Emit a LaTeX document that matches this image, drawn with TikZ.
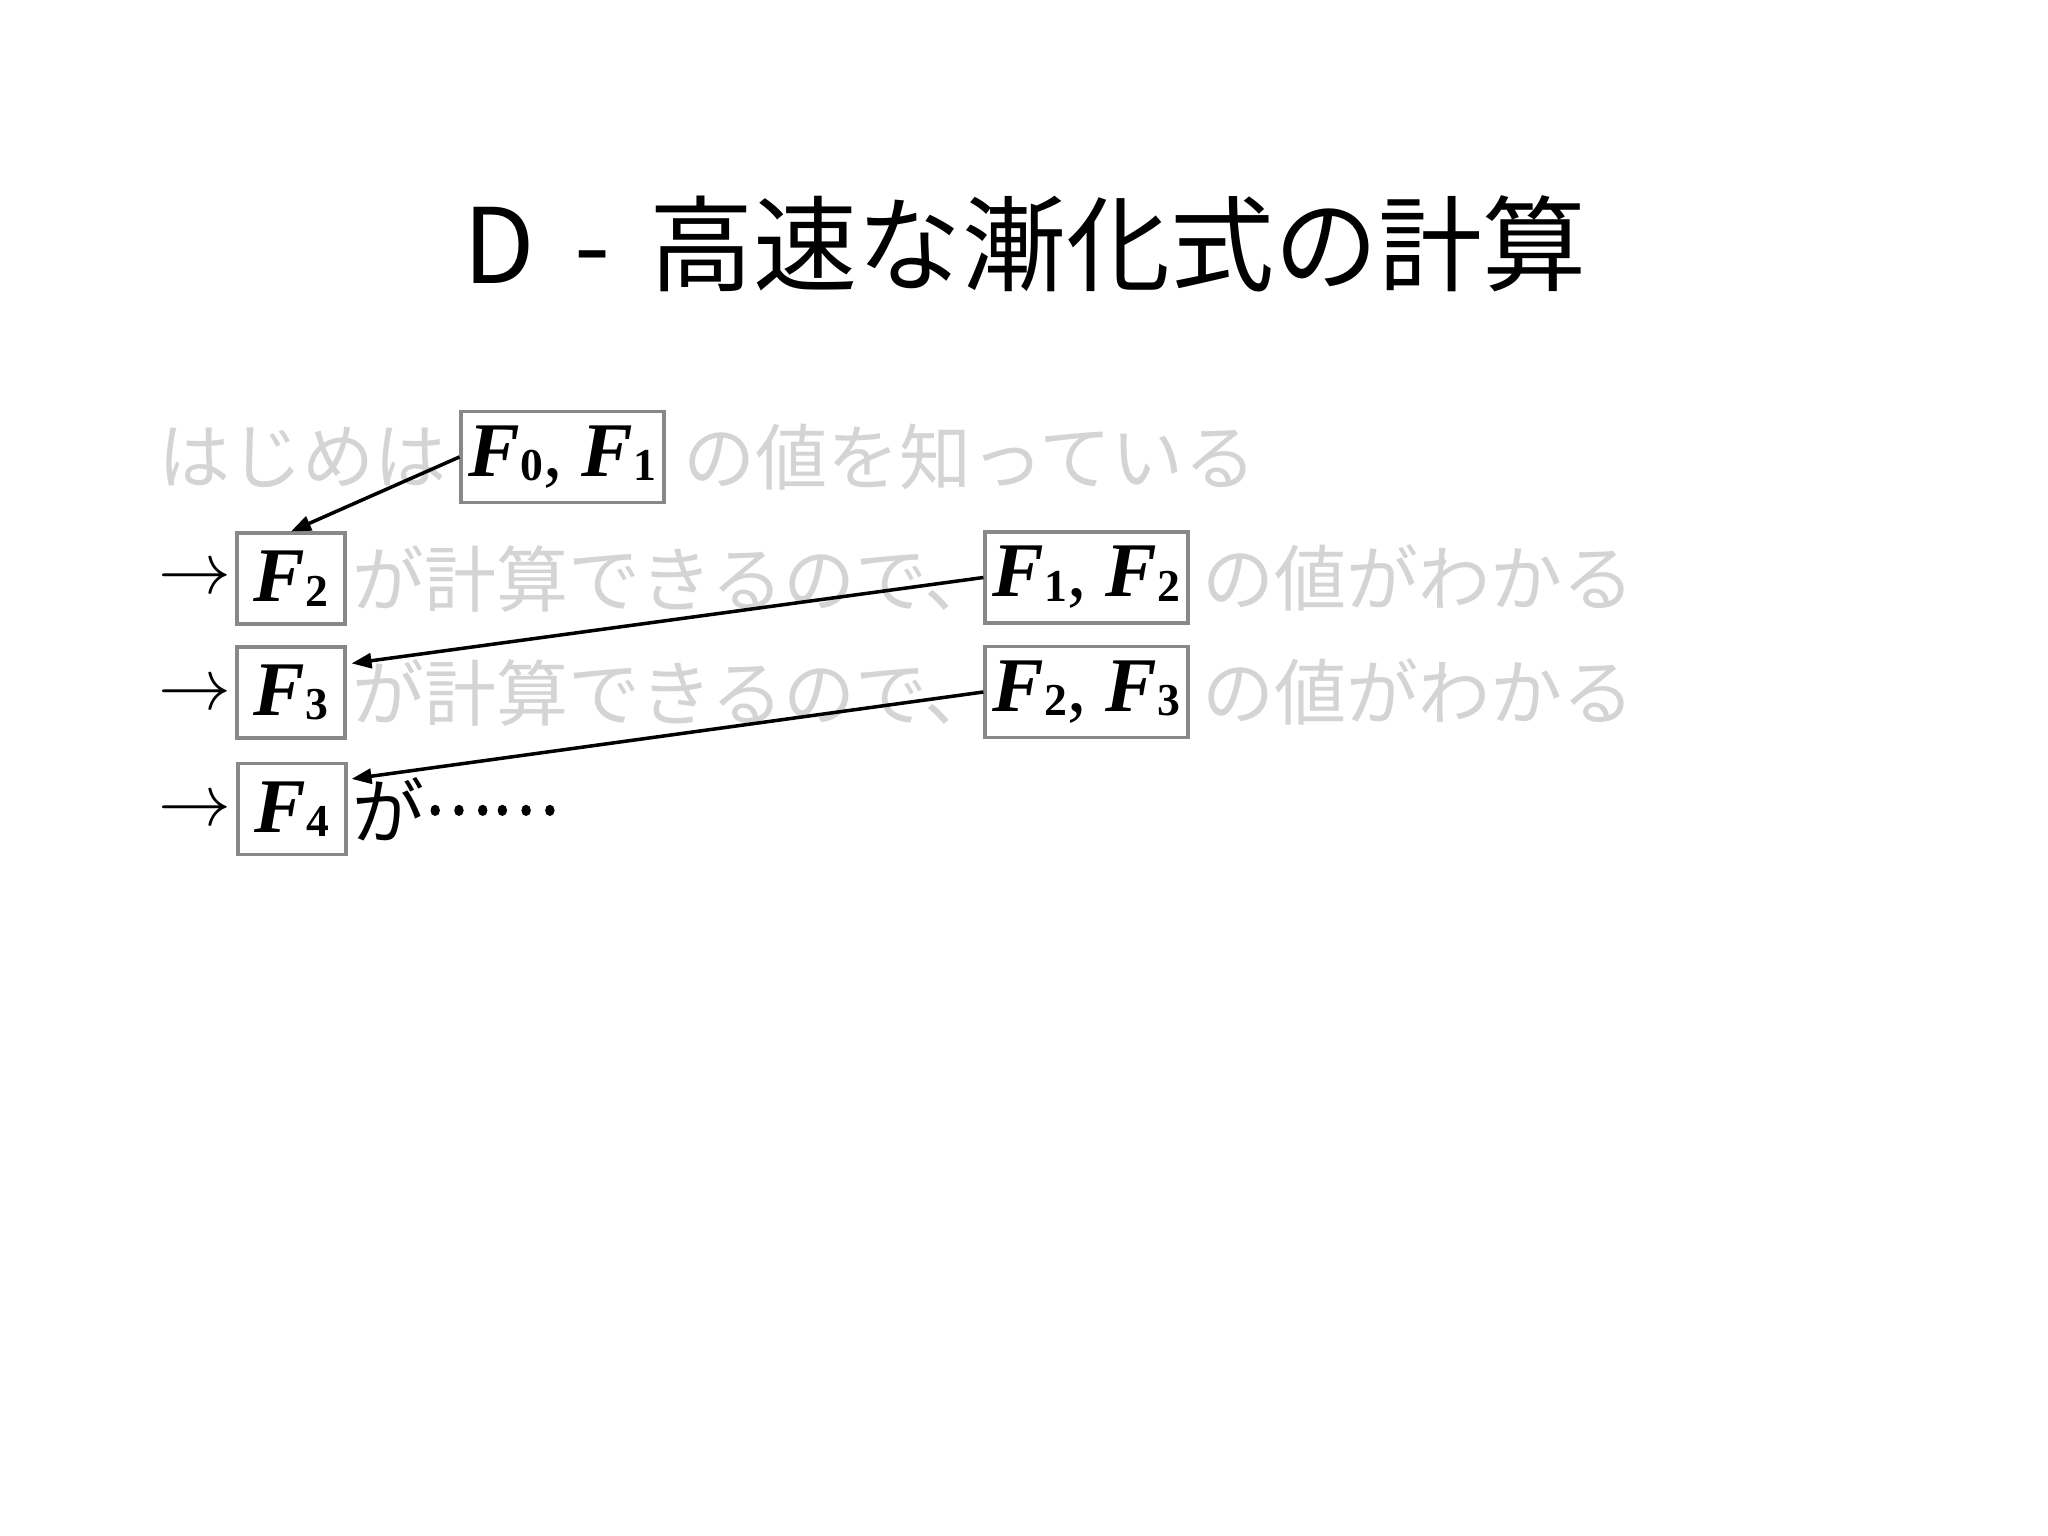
\documentclass[tikz,border=0pt]{standalone}
\usepackage{fontspec}
\setmainfont{Noto Sans CJK JP}
\newfontfamily\timesf{Liberation Serif}
\usepackage{tikz}
\usetikzlibrary{arrows.meta, positioning, calc}

\definecolor{fadedtext}{RGB}{212,212,212}
\definecolor{boxgray}{RGB}{136,136,136}

\newcommand{\Fval}[1]{{\timesf\bfseries\itshape F}{\timesf\bfseries\fontsize{13pt}{14pt}\selectfont\raisebox{-0.1em}{#1}}}

\tikzset{
    valbox/.style={draw=boxgray, line width=0.9pt, minimum height=0.91cm, inner xsep=2pt, inner ysep=0pt, font=\timesf\fontsize{22pt}{24pt}\selectfont},
    faded/.style={text=fadedtext, inner sep=0pt, font=\fontsize{20.5pt}{22pt}\selectfont},
    plain/.style={inner sep=0pt, font=\fontsize{20.5pt}{22pt}\selectfont},
    steparrow/.style={inner sep=0pt, font=\fontsize{20pt}{22pt}\selectfont},
    link/.style={-{Triangle[length=0.2cm,width=0.15cm]}, line width=1pt}
}

\begin{document}
\begin{tikzpicture}
    \useasboundingbox (0,0) rectangle (20.48,-15.36);

    \node[font=\fontsize{29.6pt}{32pt}\selectfont] (title) at (10.25,-2.44) {D\hspace{0.16cm} -\hspace{0.16cm} 高速な漸化式の計算};

    % value boxes
    \node[valbox, minimum width=2.03cm] (f01) at (5.625,-4.57) {\Fval{0}, \Fval{1}};
    \node[valbox, minimum width=1.08cm] (f2) at (2.91,-5.785) {\Fval{2}};
    \node[valbox, minimum width=1.08cm] (f3) at (2.91,-6.925) {\Fval{3}};
    \node[valbox, minimum width=1.08cm] (f4) at (2.92,-8.09) {\Fval{4}};
    \node[valbox, minimum width=2.03cm] (f12) at (10.865,-5.775) {\Fval{1}, \Fval{2}};
    \node[valbox, minimum width=2.03cm] (f23) at (10.865,-6.92) {\Fval{2}, \Fval{3}};

    % text
    \node[faded, anchor=west] (t1a) at (1.58,-4.57) {はじめは};
    \node[faded, right=0.17cm of f01] (t1b) {の値を知っている};
    \node[steparrow, anchor=west] (s2) at (1.58,-5.80) {$\rightarrow$};
    \node[faded, right=0.05cm of f2] (t2a) {が計算できるので、};
    \node[faded, right=0.12cm of f12] (t2b) {の値がわかる};
    \node[steparrow, anchor=west] (s3) at (1.58,-6.96) {$\rightarrow$};
    \node[faded, right=0.05cm of f3] (t3a) {が計算できるので、};
    \node[faded, right=0.12cm of f23] (t3b) {の値がわかる};
    \node[steparrow, anchor=west] (s4) at (1.58,-8.12) {$\rightarrow$};
    \node[plain, right=0.04cm of f4] (t4) {が\raisebox{0.33em}{\scalebox{0.88}[1]{\addfontfeatures{FakeBold=1.5}……}}};

    \draw[link] (f01.west) -- (f2.north);
    \draw[link] (f12.west) -- ([shift={(0.05,-0.18)}]f3.north east);
    \draw[link] (f23.west) -- ([shift={(0.04,-0.17)}]f4.north east);
\end{tikzpicture}
\end{document}
